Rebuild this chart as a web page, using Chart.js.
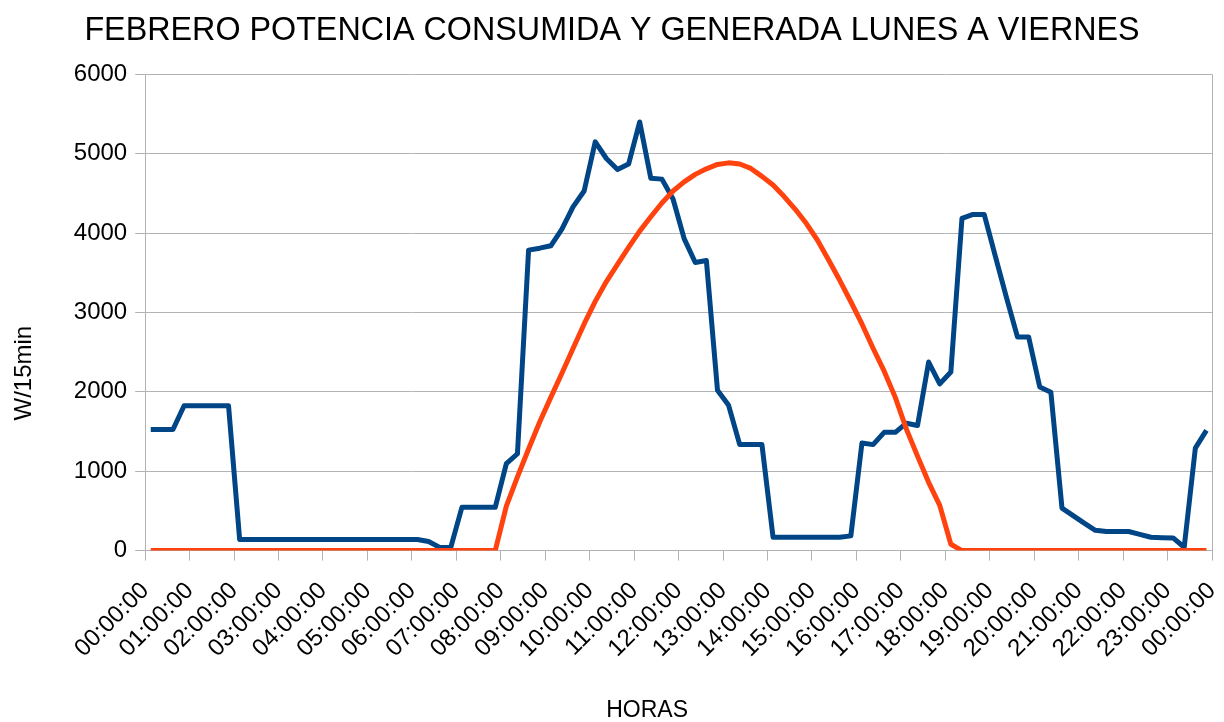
<!DOCTYPE html>
<html lang="es">
  <head>
    <meta charset="UTF-8" />
    <title>Febrero potencia consumida y generada</title>
    <style>
      body { margin: 0; background: #fff; }
      #wrap { width: 1224px; height: 722px; }
    </style>
  </head>
  <body>
    <div id="wrap"><canvas id="chart"></canvas></div>
    <script src="https://cdn.jsdelivr.net/npm/chart.js"></script>
    <script>
      // cuartos de hora (inicio de cada intervalo de 15 min)
      const horas = [
        "00:00", "00:15", "00:30", "00:45", "01:00", "01:15", "01:30", "01:45",
        "02:00", "02:15", "02:30", "02:45", "03:00", "03:15", "03:30", "03:45",
        "04:00", "04:15", "04:30", "04:45", "05:00", "05:15", "05:30", "05:45",
        "06:00", "06:15", "06:30", "06:45", "07:00", "07:15", "07:30", "07:45",
        "08:00", "08:15", "08:30", "08:45", "09:00", "09:15", "09:30", "09:45",
        "10:00", "10:15", "10:30", "10:45", "11:00", "11:15", "11:30", "11:45",
        "12:00", "12:15", "12:30", "12:45", "13:00", "13:15", "13:30", "13:45",
        "14:00", "14:15", "14:30", "14:45", "15:00", "15:15", "15:30", "15:45",
        "16:00", "16:15", "16:30", "16:45", "17:00", "17:15", "17:30", "17:45",
        "18:00", "18:15", "18:30", "18:45", "19:00", "19:15", "19:30", "19:45",
        "20:00", "20:15", "20:30", "20:45", "21:00", "21:15", "21:30", "21:45",
        "22:00", "22:15", "22:30", "22:45", "23:00", "23:15", "23:30", "23:45",
      ];

      const etiquetasEje = [
        "00:00:00", "01:00:00", "02:00:00", "03:00:00", "04:00:00", "05:00:00",
        "06:00:00", "07:00:00", "08:00:00", "09:00:00", "10:00:00", "11:00:00",
        "12:00:00", "13:00:00", "14:00:00", "15:00:00", "16:00:00", "17:00:00",
        "18:00:00", "19:00:00", "20:00:00", "21:00:00", "22:00:00", "23:00:00",
        "00:00:00",
      ];

      // W/15min
      const consumida = [
        1525, 1525, 1525, 1825, 1825, 1825, 1825, 1825,
        140, 140, 140, 140, 140, 140, 140, 140,
        140, 140, 140, 140, 140, 140, 140, 140,
        140, 115, 40, 40, 545, 545, 545, 545,
        1095, 1220, 3785, 3810, 3840, 4050, 4330, 4530,
        5150, 4940, 4800, 4870, 5400, 4690, 4680, 4430,
        3930, 3630, 3655, 2020, 1830, 1335, 1335, 1335,
        168, 168, 168, 168, 168, 168, 168, 185,
        1355, 1335, 1490, 1490, 1605, 1575, 2375, 2100,
        2250, 4185, 4235, 4235, 3710, 3190, 2690, 2690,
        2060, 1995, 535, 440, 345, 255, 240, 240,
        240, 205, 168, 163, 160, 42, 1290, 1515,
      ];

      const generada = [
        0, 0, 0, 0, 0, 0, 0, 0,
        0, 0, 0, 0, 0, 0, 0, 0,
        0, 0, 0, 0, 0, 0, 0, 0,
        0, 0, 0, 0, 0, 0, 0, 0,
        560, 930, 1280, 1620, 1930, 2235, 2545, 2855,
        3140, 3390, 3605, 3820, 4025, 4205, 4380, 4530,
        4645, 4740, 4810, 4865, 4885, 4870, 4815, 4715,
        4605, 4460, 4300, 4120, 3910, 3660, 3405, 3135,
        2855, 2550, 2260, 1930, 1530, 1190, 860, 570,
        80, 0, 0, 0, 0, 0, 0, 0,
        0, 0, 0, 0, 0, 0, 0, 0,
        0, 0, 0, 0, 0, 0, 0, 0,
      ];

      const GRIS = "#b3b3b3";
      const FUENTE = "'Liberation Sans', Arial, sans-serif";

      Chart.defaults.font.family = FUENTE;
      Chart.defaults.color = "#000";

      // cada valor se pinta en el centro de su cuarto de hora
      function aHoras(h) {
        const [hh, mm] = h.split(":").map(Number);
        return hh + mm / 60 + 0.125;
      }

      const puntos = (serie) => serie.map((v, i) => ({ x: aHoras(horas[i]), y: v }));

      // Los títulos de eje se centran sobre el diagrama entero (con etiquetas),
      // como hace LibreOffice; el título de escala de Chart.js solo reserva el hueco.
      const titulosEjes = {
        id: "titulosEjes",
        afterDraw(chart) {
          const { ctx, chartArea, scales } = chart;
          const x = scales.x;
          const y = scales.y;
          ctx.save();
          ctx.fillStyle = "#000";
          ctx.textAlign = "center";
          ctx.textBaseline = "middle";

          ctx.font = `24px ${FUENTE}`;
          ctx.translate(y.left + 24, (chartArea.top + x.bottom - 50) / 2);
          ctx.rotate(-Math.PI / 2);
          ctx.fillText("W/15min", 0, 0);
          ctx.restore();

          ctx.save();
          ctx.fillStyle = "#000";
          ctx.textAlign = "center";
          ctx.textBaseline = "middle";
          ctx.font = `23px ${FUENTE}`;
          ctx.fillText("HORAS", (chartArea.left - 75 + chart.width) / 2, x.bottom - 11.5);
          ctx.restore();
        },
      };

      new Chart(document.getElementById("chart"), {
        type: "line",
        data: {
          datasets: [
            {
              label: "Generada",
              data: puntos(generada),
              borderColor: "#ff420e",
              backgroundColor: "#ff420e",
              borderWidth: 5,
              pointRadius: 0,
              tension: 0,
              borderJoinStyle: "round",
              order: 0,
            },
            {
              label: "Consumida",
              data: puntos(consumida),
              borderColor: "#004586",
              backgroundColor: "#004586",
              borderWidth: 5,
              pointRadius: 0,
              tension: 0,
              borderJoinStyle: "round",
              order: 1,
            },
          ],
        },
        options: {
          responsive: true,
          maintainAspectRatio: false,
          animation: false,
          layout: { padding: 0 },
          plugins: {
            legend: { display: false },
            tooltip: { enabled: false },
            title: {
              display: true,
              text: "FEBRERO POTENCIA CONSUMIDA Y GENERADA LUNES A VIERNES",
              color: "#000",
              font: { family: FUENTE, size: 32.3, weight: "normal" },
              padding: { top: 12, bottom: 23.6 },
            },
          },
          scales: {
            x: {
              type: "linear",
              min: 0,
              max: 24,
              border: { color: GRIS },
              grid: {
                color: (ctx) => (ctx.tick && ctx.tick.value === 24 ? GRIS : "transparent"),
                tickColor: GRIS,
                tickLength: 10,
              },
              ticks: {
                stepSize: 1,
                autoSkip: false,
                maxRotation: 45,
                minRotation: 45,
                padding: 16,
                font: { size: 24 },
                callback: (v, i) => etiquetasEje[i],
              },
              title: {
                display: true,
                text: "HORAS",
                color: "transparent",
                font: { size: 23, lineHeight: 1 },
                padding: { top: 20, bottom: 0 },
              },
              // la última etiqueta girada no debe encoger el área del gráfico
              afterFit: (scale) => {
                scale.paddingLeft = 0;
                scale.paddingRight = 12;
              },
            },
            y: {
              min: 0,
              max: 6000,
              border: { color: GRIS },
              grid: { color: GRIS, tickLength: 10 },
              ticks: {
                stepSize: 1000,
                padding: 8,
                font: { size: 24 },
                callback: (v) => String(v),
              },
              title: {
                display: true,
                text: "W/15min",
                color: "transparent",
                font: { size: 24 },
                padding: { top: 10, bottom: 27 },
              },
            },
          },
        },
        plugins: [titulosEjes],
      });
    </script>
  </body>
</html>
